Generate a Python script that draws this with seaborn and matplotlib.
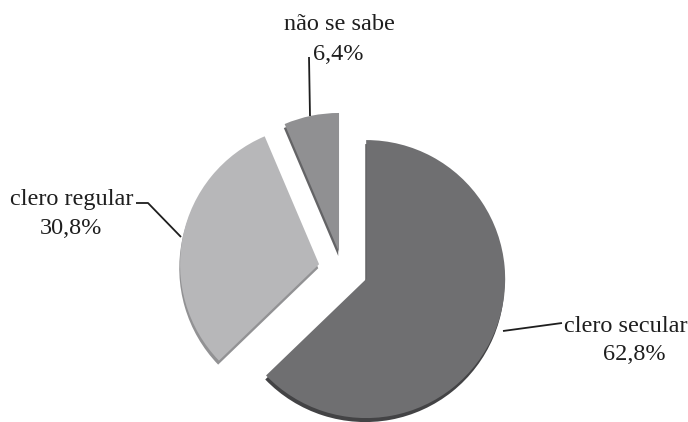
import matplotlib
matplotlib.use("Agg")
import matplotlib.pyplot as plt
import seaborn as sns

# data
categories = ["clero secular", "clero regular", "não se sabe"]
values = [62.8, 30.8, 6.4]
value_labels = ["62,8%", "30,8%", "6,4%"]

sns.set_theme(style="white")
plt.rcParams["font.family"] = ["Liberation Serif", "DejaVu Serif"]

W, H = 688, 422
fig = plt.figure(figsize=(W / 100, H / 100), dpi=100)
ax = fig.add_axes([0, 0, 1, 1])

face = ["#6f6f71", "#b7b7b9", "#909092"]
side = ["#434345", "#929294", "#646466"]
R = 139
explode = [0.185 * R, 0.172 * R, 0.125 * R]
cx, cy = 342.5, H - 269

# extrusion (3D side)
ax.pie(values, colors=side, explode=explode, startangle=90, counterclock=False,
       radius=R, center=(cx - 0.8, cy - 4), frame=True,
       wedgeprops=dict(linewidth=0))
# top faces
ax.pie(values, colors=face, explode=explode, startangle=90, counterclock=False,
       radius=R, center=(cx, cy), frame=True,
       wedgeprops=dict(linewidth=0))

ax.set_xlim(0, W)
ax.set_ylim(0, H)
ax.set_aspect("equal")
ax.axis("off")

tc = "#1e1e1e"
fs = 17.5
# label positions (pixel coords, y from top)
lab_pos = {
    "clero secular": ((626, 326), (634, 355)),
    "clero regular": ((72, 199), (71, 229)),
    "não se sabe": ((339, 25), (338, 55)),
}
for cat, vl in zip(categories, value_labels):
    (x1, y1), (x2, y2) = lab_pos[cat]
    ax.text(x1, H - y1, cat, ha="center", va="center", fontsize=fs, color=tc)
    ax.text(x2, H - y2, vl, ha="center", va="center", fontsize=fs, color=tc)

# leader lines
leaders = [
    [(503, 331), (562, 323)],
    [(136, 203), (148, 203), (181, 237)],
    [(309, 57), (310, 116)],
]
for pts in leaders:
    xs = [p[0] for p in pts]
    ys = [H - p[1] for p in pts]
    ax.plot(xs, ys, color=tc, lw=1.3, solid_capstyle="butt")

fig.savefig("out.png", dpi=100, facecolor="white")
